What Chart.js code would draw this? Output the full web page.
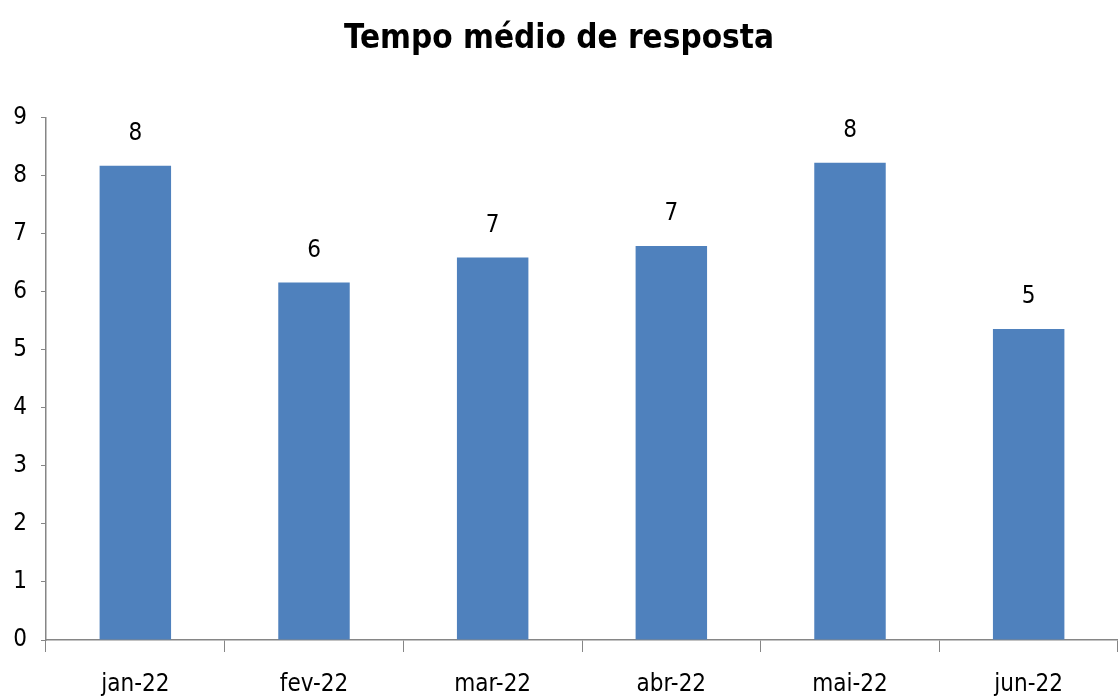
<!DOCTYPE html>
<html>
<head>
<meta charset="utf-8">
<script src="https://cdn.jsdelivr.net/npm/chart.js@4"></script>
<style>
  html, body { margin: 0; padding: 0; background: #fff; }
  #wrap { width: 1118px; height: 698px; }
</style>
</head>
<body>
<div id="wrap"><canvas id="chart"></canvas></div>
<script>
// Chart data
const months = ['jan-22', 'fev-22', 'mar-22', 'abr-22', 'mai-22', 'jun-22'];
const responseTimes = [8.17, 6.16, 6.59, 6.79, 8.22, 5.36];
const yTicks = [0, 1, 2, 3, 4, 5, 6, 7, 8, 9];

const FONT = '"DejaVu Sans Condensed", "Liberation Sans Narrow", Arial, sans-serif';
const AXIS_GREY = '#868686';

// Draw rounded value above each bar
const valueLabels = {
    id: 'valueLabels',
    afterDatasetsDraw(chart) {
        const ctx = chart.ctx;
        const meta = chart.getDatasetMeta(0);
        ctx.save();
        ctx.font = '24px ' + FONT;
        ctx.fillStyle = '#000';
        ctx.textAlign = 'center';
        ctx.textBaseline = 'bottom';
        meta.data.forEach((bar, i) => {
            ctx.fillText(Math.round(responseTimes[i]), bar.x, bar.y - 20);
        });
        ctx.restore();
    }
};

new Chart(document.getElementById('chart'), {
    type: 'bar',
    data: {
        labels: months,
        datasets: [{
            data: responseTimes,
            backgroundColor: '#4f81bd',
            borderWidth: 0,
            categoryPercentage: 1,
            barPercentage: 0.4
        }]
    },
    options: {
        responsive: true,
        maintainAspectRatio: false,
        animation: false,
        layout: { padding: 0 },
        plugins: {
            legend: { display: false },
            tooltip: { enabled: false },
            title: {
                display: true,
                text: 'Tempo médio de resposta',
                color: '#000',
                font: { family: FONT, size: 33, weight: 'bold' },
                padding: { top: 20, bottom: 58 }
            }
        },
        scales: {
            y: {
                min: 0,
                max: 9,
                afterBuildTicks: (scale) => { scale.ticks = yTicks.map(v => ({ value: v })); },
                afterFit: (scale) => { scale.width = 46; },
                border: { color: AXIS_GREY, width: 1.5 },
                grid: { drawOnChartArea: false, tickLength: 5, color: AXIS_GREY },
                ticks: { color: '#000', padding: 14, font: { family: FONT, size: 24 } }
            },
            x: {
                afterFit: (scale) => { scale.height = 58; },
                border: { color: AXIS_GREY, width: 1.5 },
                grid: { drawOnChartArea: false, offset: true, tickLength: 12, color: AXIS_GREY },
                ticks: { color: '#000', padding: 18, font: { family: FONT, size: 24 } }
            }
        }
    },
    plugins: [valueLabels]
});
</script>
</body>
</html>
